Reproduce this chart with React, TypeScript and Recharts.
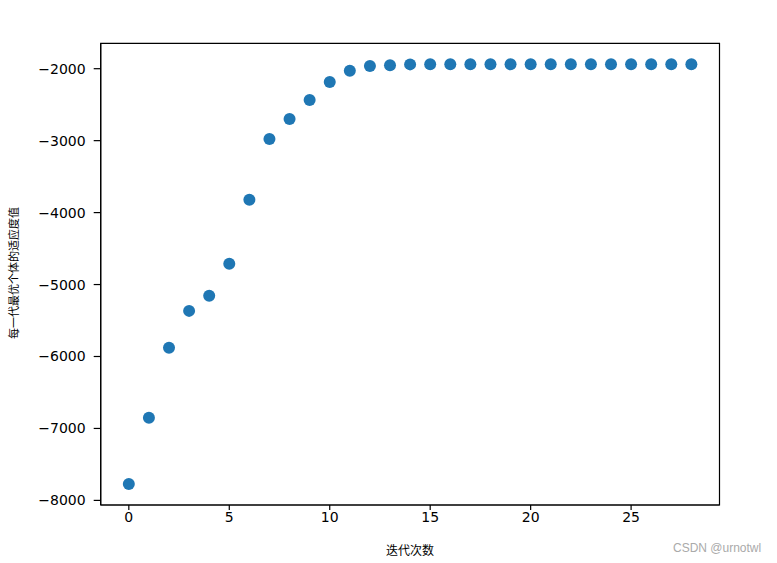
import React from "react";
import { ScatterChart, Scatter, XAxis, YAxis, Customized, ReferenceArea } from "recharts";

const iterations = [0, 1, 2, 3, 4, 5, 6, 7, 8, 9, 10, 11, 12, 13, 14, 15, 16, 17, 18, 19, 20, 21, 22, 23, 24, 25, 26, 27, 28];
const fitness = [
  -7772, -6850, -5880, -5366, -5157, -4712, -3820, -2976, -2698, -2434,
  -2184, -2028, -1963, -1952, -1940, -1939, -1939, -1939, -1939, -1939,
  -1939, -1939, -1939, -1939, -1939, -1939, -1939, -1939, -1939,
];
const xTicks = [0, 5, 10, 15, 20, 25];
const yTicks = [-8000, -7000, -6000, -5000, -4000, -3000, -2000];
const xDomain = [-1.4, 29.4];
const yDomain = [-8064, -1647];
const xLabel = "迭代次数";
const yLabel = "每一代最优个体的适应度值";
const watermark = "CSDN @urnotwl";

const data = iterations.map((x, i) => ({ x, y: fitness[i] }));

const FONT = "'DejaVu Sans', sans-serif";
const BLUE = "#1f77b4";

const Dot = (props: any) => <circle cx={props.cx} cy={props.cy} r={6} fill={BLUE} />;

const fmt = (v: number) => (v < 0 ? "\u2212" + Math.abs(v) : String(v));

const Labels = () => (
  <g>
    <text x={410} y={555} textAnchor="middle" fontSize={12} fontFamily="'Noto Sans CJK SC', sans-serif" fill="#000">
      {xLabel}
    </text>
    <text
      x={0}
      y={0}
      transform="translate(18,273) rotate(-90)"
      textAnchor="middle"
      fontSize={11}
      fontFamily="'Noto Sans CJK SC', sans-serif"
      fill="#000"
    >
      {yLabel}
    </text>
    <text x={673} y={552} fontSize={12} fontFamily="'Liberation Sans', Arial, sans-serif" fill="#aaa">
      {watermark}
    </text>
  </g>
);

export default function App() {
  return (
    <div style={{ position: "absolute", left: 0, top: 0, width: 777, height: 563, background: "#fff" }}>
      <ScatterChart
        width={777}
        height={563}
        margin={{ top: 43.3, right: 57.5, bottom: 28, left: 40.7 }}
      >
        <XAxis
          dataKey="x"
          type="number"
          domain={xDomain}
          ticks={xTicks}
          allowDataOverflow
          height={30}
          tickSize={5}
          tickMargin={2}
          axisLine={{ stroke: "#000", strokeWidth: 1.2 }}
          tickLine={{ stroke: "#000", strokeWidth: 1.2 }}
          tick={{ fill: "#000", fontSize: 14, fontFamily: FONT }}
        />
        <YAxis
          dataKey="y"
          type="number"
          domain={yDomain}
          ticks={yTicks}
          allowDataOverflow
          width={60}
          tickSize={7}
          tickMargin={8}
          tickFormatter={fmt}
          axisLine={{ stroke: "#000", strokeWidth: 1.2 }}
          tickLine={{ stroke: "#000", strokeWidth: 1.2 }}
          tick={{ fill: "#000", fontSize: 14, fontFamily: FONT }}
        />
        <ReferenceArea
          x1={xDomain[0]}
          x2={xDomain[1]}
          y1={yDomain[0]}
          y2={yDomain[1]}
          fill="none"
          fillOpacity={0}
          stroke="#000"
          strokeWidth={1.2}
          ifOverflow="visible"
        />
        <Scatter data={data} shape={Dot} isAnimationActive={false} />
        <Customized component={Labels} />
      </ScatterChart>
    </div>
  );
}
